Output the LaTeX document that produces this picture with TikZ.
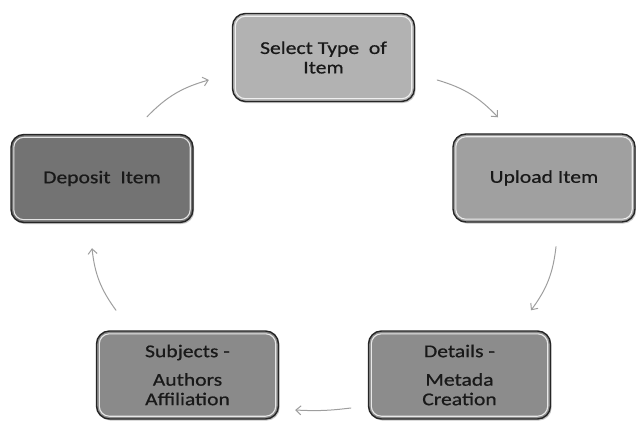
\documentclass[tikz,border=0pt]{standalone}
\usepackage{fontspec}
\setmainfont{Carlito}[FakeStretch=1.2,FakeBold=0.7]
\usetikzlibrary{arrows.meta,shadows}
\definecolor{selgray}{HTML}{B2B2B2}
\definecolor{upgray}{HTML}{A0A0A0}
\definecolor{detgray}{HTML}{8C8C8C}
\definecolor{subgray}{HTML}{8A8A8A}
\definecolor{depgray}{HTML}{737373}
\begin{document}
\begin{tikzpicture}[x=1pt,y=1pt,line cap=round,line join=round,
  stepbox/.style={draw=black!85,line width=1.4pt,rounded corners=13pt,fill=#1,
    minimum width=182pt,minimum height=88pt,align=center,text=black!90,
    font=\fontsize{18}{19.5}\selectfont,
    drop shadow={shadow xshift=1.2pt,shadow yshift=-1.6pt,opacity=0.45}},
  gloss/.style={draw=white,line width=1.1pt,rounded corners=10pt,opacity=0.8},
  flow/.style={draw=black!38,line width=1pt,bend left=15,
    -{Straight Barb[length=5pt,width=9pt]}}]
  \useasboundingbox (0,0) rectangle (636,420);
  % the five steps
  \node[stepbox=selgray] (select) at (323.5,362.5) {Select Type~~of\\Item};
  \node[stepbox=upgray] (upload) at (544,242) {Upload Item};
  \node[stepbox=detgray] (details) at (459.5,45) {Details -\\[9pt]Metada\\Creation};
  \node[stepbox=subgray] (subjects) at (187.5,45) {Subjects -\\[9pt]Authors\\Affiliation};
  \node[stepbox=depgray] (deposit) at (102,241.5) {Deposit~~Item};
  \foreach \n in {select,upload,details,subjects,deposit}
    \draw[gloss] ([shift={(3.5,3.5)}]\n.south west) rectangle ([shift={(-3.5,-3.5)}]\n.north east);
  % cycle
  \draw[flow] ([shift={(45,17)}]deposit.north) to ([shift={(-23,-22.5)}]select.west);
  \draw[flow] ([shift={(22,-22.5)}]select.east) to ([shift={(-46,16)}]upload.north);
  \draw[flow] ([shift={(12,-24)}]upload.south) to ([shift={(71.5,20)}]details.north);
  \draw[flow,bend left=5] ([shift={(-17,-33)}]details.west) to ([shift={(16,-35)}]subjects.east);
  \draw[flow] ([shift={(-71.5,20)}]subjects.north) to ([shift={(-10,-25)}]deposit.south);
\end{tikzpicture}
\end{document}
